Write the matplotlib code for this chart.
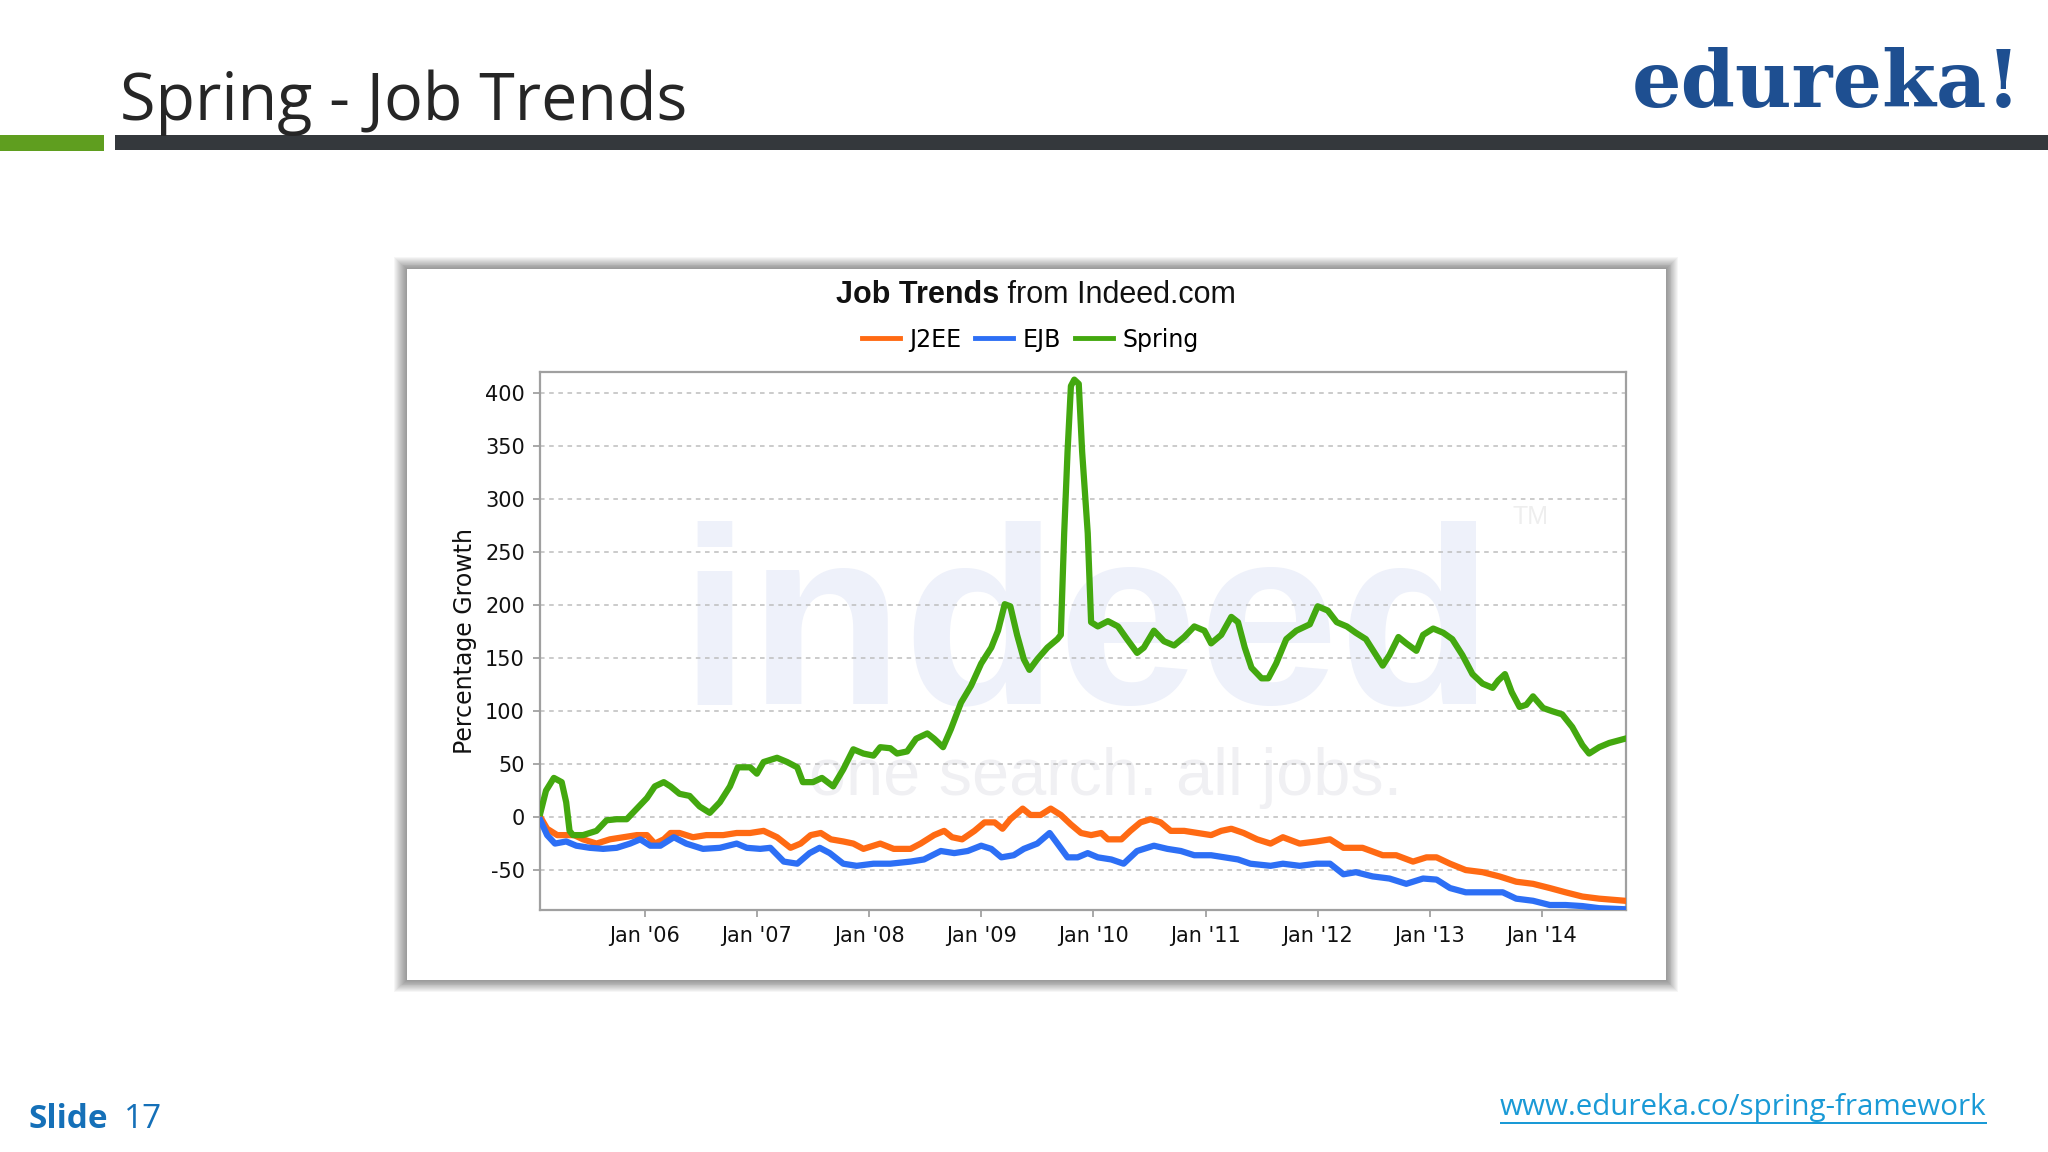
import numpy as np
import matplotlib
matplotlib.use("Agg")
import matplotlib.pyplot as plt
from matplotlib.patches import Rectangle

plt.rcParams["axes.unicode_minus"] = False

# values (decimal year, percentage growth)
spring_t = [2005.07, 2005.12, 2005.19, 2005.26, 2005.30, 2005.33, 2005.36, 2005.45, 2005.57, 2005.66,
            2005.75, 2005.84, 2005.93, 2006.02, 2006.09, 2006.17, 2006.23, 2006.31, 2006.40, 2006.49,
            2006.58, 2006.67, 2006.76, 2006.83, 2006.94, 2007.00, 2007.06, 2007.18, 2007.27, 2007.36,
            2007.41, 2007.50, 2007.58, 2007.68, 2007.77, 2007.86, 2007.95, 2008.04, 2008.10, 2008.19,
            2008.25, 2008.34, 2008.42, 2008.52, 2008.58, 2008.66, 2008.73, 2008.82, 2008.91, 2009.00,
            2009.09, 2009.15, 2009.21, 2009.26, 2009.32, 2009.38, 2009.43, 2009.50, 2009.59, 2009.68,
            2009.71, 2009.74, 2009.77, 2009.80, 2009.83, 2009.87, 2009.90, 2009.95, 2009.98, 2010.04,
            2010.13, 2010.22, 2010.30, 2010.39, 2010.45, 2010.54, 2010.63, 2010.72, 2010.81, 2010.90,
            2010.99, 2011.05, 2011.14, 2011.23, 2011.29, 2011.35, 2011.41, 2011.50, 2011.56, 2011.63,
            2011.72, 2011.81, 2011.93, 2012.00, 2012.09, 2012.17, 2012.26, 2012.34, 2012.43, 2012.52,
            2012.58, 2012.64, 2012.72, 2012.79, 2012.88, 2012.94, 2013.03, 2013.12, 2013.20, 2013.29,
            2013.38, 2013.47, 2013.56, 2013.61, 2013.67, 2013.73, 2013.80, 2013.86, 2013.92, 2014.01,
            2014.09, 2014.18, 2014.27, 2014.36, 2014.42, 2014.51, 2014.60, 2014.74]
spring_v = [4, 25, 37, 33, 14, -13, -17, -17, -13, -3,
            -2, -2, 8, 18, 29, 33, 29, 22, 20, 10,
            4, 14, 29, 47, 47, 41, 52, 56, 52, 47,
            33, 33, 37, 29, 45, 64, 60, 58, 66, 65,
            60, 62, 74, 79, 74, 66, 83, 108, 124, 145,
            160, 176, 201, 199, 172, 149, 139, 149, 160, 168,
            172, 268, 345, 407, 413, 409, 345, 268, 184, 180,
            185, 180, 168, 155, 160, 176, 166, 162, 170, 180,
            176, 164, 172, 189, 184, 160, 141, 131, 131, 145,
            168, 176, 182, 199, 195, 184, 180, 174, 168, 153,
            143, 153, 170, 164, 157, 172, 178, 174, 168, 153,
            135, 126, 122, 129, 135, 118, 104, 106, 114, 103,
            100, 97, 85, 68, 60, 66, 70, 74]

j2ee_t = [2005.07, 2005.13, 2005.22, 2005.37, 2005.45, 2005.57, 2005.69, 2005.81, 2005.93, 2006.02,
          2006.09, 2006.17, 2006.23, 2006.31, 2006.43, 2006.55, 2006.70, 2006.82, 2006.94, 2007.06,
          2007.18, 2007.30, 2007.39, 2007.48, 2007.57, 2007.66, 2007.77, 2007.86, 2007.95, 2008.10,
          2008.22, 2008.37, 2008.46, 2008.58, 2008.67, 2008.74, 2008.83, 2008.94, 2009.03, 2009.12,
          2009.19, 2009.26, 2009.37, 2009.44, 2009.53, 2009.62, 2009.71, 2009.80, 2009.89, 2009.98,
          2010.07, 2010.13, 2010.25, 2010.33, 2010.42, 2010.51, 2010.60, 2010.69, 2010.81, 2010.93,
          2011.05, 2011.14, 2011.23, 2011.34, 2011.46, 2011.58, 2011.69, 2011.84, 2011.99, 2012.11,
          2012.23, 2012.40, 2012.58, 2012.70, 2012.85, 2012.97, 2013.06, 2013.18, 2013.32, 2013.47,
          2013.62, 2013.77, 2013.92, 2014.07, 2014.21, 2014.36, 2014.51, 2014.74]
j2ee_v = [0, -11, -17, -17, -21, -25, -21, -19, -17, -17,
          -25, -21, -15, -15, -19, -17, -17, -15, -15, -13,
          -19, -29, -25, -17, -15, -21, -23, -25, -30, -25,
          -30, -30, -25, -17, -13, -19, -21, -13, -5, -5,
          -11, -2, 8, 2, 2, 8, 2, -7, -15, -17,
          -15, -21, -21, -13, -5, -2, -5, -13, -13, -15,
          -17, -13, -11, -15, -21, -25, -19, -25, -23, -21,
          -29, -29, -36, -36, -42, -38, -38, -44, -50, -52,
          -56, -61, -63, -67, -71, -75, -77, -79]

ejb_t = [2005.07, 2005.13, 2005.20, 2005.30, 2005.39, 2005.51, 2005.63, 2005.75, 2005.87, 2005.96,
         2006.05, 2006.14, 2006.26, 2006.37, 2006.52, 2006.67, 2006.82, 2006.91, 2007.03, 2007.12,
         2007.24, 2007.36, 2007.47, 2007.56, 2007.65, 2007.77, 2007.89, 2008.04, 2008.19, 2008.37,
         2008.49, 2008.64, 2008.76, 2008.88, 2009.00, 2009.09, 2009.18, 2009.29, 2009.38, 2009.50,
         2009.61, 2009.68, 2009.77, 2009.86, 2009.95, 2010.04, 2010.16, 2010.27, 2010.39, 2010.54,
         2010.66, 2010.78, 2010.90, 2011.05, 2011.17, 2011.29, 2011.40, 2011.58, 2011.69, 2011.84,
         2011.99, 2012.11, 2012.23, 2012.34, 2012.49, 2012.64, 2012.79, 2012.94, 2013.06, 2013.18,
         2013.32, 2013.47, 2013.65, 2013.77, 2013.92, 2014.07, 2014.21, 2014.36, 2014.51, 2014.74]
ejb_v = [-3, -17, -25, -23, -27, -29, -30, -29, -25, -21,
         -27, -27, -19, -25, -30, -29, -25, -29, -30, -29,
         -42, -44, -34, -29, -34, -44, -46, -44, -44, -42,
         -40, -32, -34, -32, -27, -30, -38, -36, -30, -25,
         -15, -25, -38, -38, -34, -38, -40, -44, -32, -27,
         -30, -32, -36, -36, -38, -40, -44, -46, -44, -46,
         -44, -44, -54, -52, -56, -58, -63, -58, -59, -67,
         -71, -71, -71, -77, -79, -83, -83, -84, -86, -87]

year_ticks = [2006, 2007, 2008, 2009, 2010, 2011, 2012, 2013, 2014]
year_labels = ["Jan '06", "Jan '07", "Jan '08", "Jan '09", "Jan '10",
               "Jan '11", "Jan '12", "Jan '13", "Jan '14"]
y_ticks = [-50, 0, 50, 100, 150, 200, 250, 300, 350, 400]

W, H = 2048, 1152
fig = plt.figure(figsize=(20.48, 11.52), dpi=100)
fig.patch.set_facecolor("white")

# slide header
fig.text(0.0587, 0.8957, "Spring - Job Trends", fontsize=46.5, family="Open Sans",
         color="#262626", va="baseline", ha="left")
fig.add_artist(Rectangle((0, 0.8685), 0.051, 0.0147, transform=fig.transFigure,
                         facecolor="#5f9e1f", edgecolor="none"))
fig.add_artist(Rectangle((0.0561, 0.8696), 0.9439, 0.0136, transform=fig.transFigure,
                         facecolor="#34383c", edgecolor="none"))
fig.text(0.987, 0.907, "edureka!", fontsize=56, family="DejaVu Serif", weight="bold",
         color="#1e4f91", ha="right", va="baseline")

# chart card: white panel with a soft grey drop shadow
x0, y0, x1, y1 = 407, 269, 1666, 980   # pixel box of the white card
n = 14
for i in range(n, 0, -1):
    g = 0.60 + 0.40 * (i / n) ** 1.3
    fig.add_artist(Rectangle(((x0 - i) / W, 1 - (y1 + i * 0.9) / H),
                             (x1 - x0 + i * 1.9) / W, (y1 - y0 + i * 1.8) / H,
                             transform=fig.transFigure, facecolor=(g, g, g),
                             edgecolor="none", zorder=-3))
fig.add_artist(Rectangle((x0 / W, 1 - y1 / H), (x1 - x0) / W, (y1 - y0) / H,
                         transform=fig.transFigure, facecolor="white",
                         edgecolor="none", zorder=-2))

fig.text(0.4879, 0.7438, "Job Trends", fontsize=22, family="Liberation Sans", weight="bold",
         color="#111111", ha="right", va="center")
fig.text(0.4879, 0.7438, " from Indeed.com", fontsize=22, family="Liberation Sans",
         color="#111111", ha="left", va="center")

ax = fig.add_axes([0.2637, 0.2098, 0.5303, 0.4671])
ax.set_facecolor("white")

# faint indeed watermark
ax.text(0.128, 0.385, "indeed", transform=ax.transAxes, fontsize=182, weight="bold",
        family="Liberation Sans", color="#eef1fa", ha="left", va="baseline", zorder=0)
ax.text(0.248, 0.215, "one search. all jobs.", transform=ax.transAxes, fontsize=48,
        family="Liberation Sans", color="#f0f0f3", ha="left", va="baseline", zorder=0)
ax.text(0.895, 0.73, "TM", transform=ax.transAxes, fontsize=18,
        family="Liberation Sans", color="#eeeeee", ha="left", va="center", zorder=0)

ax.plot(j2ee_t, j2ee_v, color="#ff6a13", lw=4.5, label="J2EE", zorder=3)
ax.plot(ejb_t, ejb_v, color="#2d6ff5", lw=4.5, label="EJB", zorder=3)
ax.plot(spring_t, spring_v, color="#43a80f", lw=4.5, label="Spring", zorder=4)

ax.set_xlim(2005.067, 2014.75)
ax.set_ylim(-88, 420)
ax.set_xticks(year_ticks)
ax.set_xticklabels(year_labels)
ax.set_yticks(y_ticks)
ax.tick_params(axis="both", labelsize=15, colors="#111111", length=5, width=1.2, pad=6)
ax.tick_params(axis="both", color="#9a9a9a")
ax.grid(axis="y", color="#bdbdbd", lw=1.1, linestyle=(0, (3, 3)), zorder=1)
for s in ax.spines.values():
    s.set_color("#a0a0a0")
    s.set_linewidth(1.6)
ax.set_ylabel("Percentage Growth", fontsize=17, color="#111111", labelpad=6)

leg = fig.legend(loc="center", bbox_to_anchor=(0.503, 0.7052), ncol=3, frameon=False,
                 fontsize=17, handlelength=1.6, handletextpad=0.4, columnspacing=0.6)
for line in leg.get_lines():
    line.set_linewidth(3.5)

# footer
fig.text(0.014, 0.0283, "Slide", fontsize=24, family="Open Sans", weight="bold",
         color="#1570b8", ha="left", va="center")
fig.text(0.0605, 0.0283, "17", fontsize=24, family="Open Sans",
         color="#1570b8", ha="left", va="center")
fig.text(0.970, 0.0385, "www.edureka.co/spring-framework", fontsize=21.3,
         family="Open Sans", color="#1a9ad6", ha="right", va="center")
fig.add_artist(Rectangle((0.7325, 0.0245), 0.2375, 0.0016, transform=fig.transFigure,
                         facecolor="#1a9ad6", edgecolor="none"))

fig.savefig("out.png", dpi=100, facecolor="white")
